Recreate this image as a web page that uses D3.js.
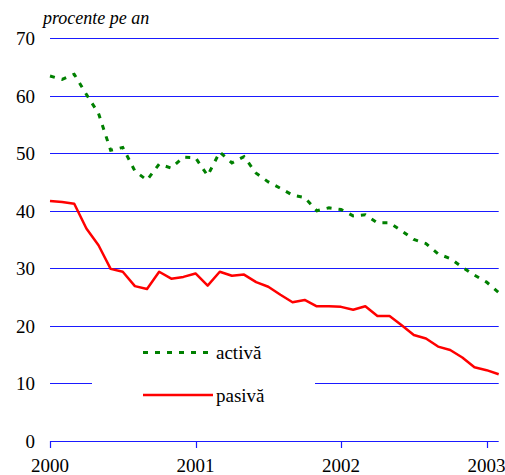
<!DOCTYPE html>
<html>
<head>
<meta charset="utf-8">
<script src="https://cdn.jsdelivr.net/npm/d3@7"></script>
</head>
<body style="margin:0; background:#fff">
<svg id="chart" width="505" height="475"></svg>
<script>
// monthly data, Jan 2000 .. Feb 2003
const activa = [63.4, 62.8, 63.7, 60.2, 56.9, 50.5, 51.0, 46.9, 45.3, 48.1, 47.4, 49.3,
                49.2, 46.1, 50.2, 48.3, 49.4, 46.5, 45.0, 43.9, 42.7, 42.3, 40.0, 40.5,
                40.2, 39.1, 39.3, 37.9, 37.9, 36.5, 35.0, 34.3, 32.5, 31.7, 30.2, 28.8,
                27.6, 25.8];
const pasiva = [41.7, 41.5, 41.2, 36.9, 34.0, 29.9, 29.4, 26.9, 26.4, 29.4, 28.2, 28.5,
                29.1, 27.0, 29.4, 28.7, 28.9, 27.6, 26.8, 25.4, 24.1, 24.5, 23.4, 23.4,
                23.3, 22.8, 23.4, 21.7, 21.7, 20.1, 18.4, 17.8, 16.4, 15.8, 14.5, 12.8,
                12.3, 11.6];
const startYear = 2000;
const yearTicks = [2000, 2001, 2002, 2003];
const valueTicks = [0, 10, 20, 30, 40, 50, 60, 70];
const seriesNames = ["activă", "pasivă"];
const unitLabel = "procente pe an";

const serif = "'Liberation Serif'";
const svg = d3.select("#chart");

const x = d3.scaleLinear()
    .domain([startYear, startYear + (activa.length - 1) / 12])
    .range([50, 498.7]);
const y = d3.scaleLinear().domain([0, 70]).range([441, 38]);

const toYear = i => startYear + i / 12;

// grid lines
svg.append("g")
    .selectAll("line")
    .data(valueTicks)
    .enter()
    .append("line")
    .attr("x1", x.range()[0])
    .attr("x2", x.range()[1])
    .attr("y1", d => Math.round(y(d)) + 0.5)
    .attr("y2", d => Math.round(y(d)) + 0.5)
    .attr("stroke", "#1a1aff")
    .attr("stroke-width", 1.2);

// y labels
svg.append("g")
    .selectAll("text")
    .data(valueTicks)
    .enter()
    .append("text")
    .attr("x", 35)
    .attr("y", d => y(d) + 7)
    .attr("text-anchor", "end")
    .style("font-family", serif)
    .style("font-size", "19px")
    .text(d => d);

// x ticks + labels
const xAxis = svg.append("g");
xAxis.selectAll("line")
    .data(yearTicks)
    .enter()
    .append("line")
    .attr("x1", d => Math.round(x(d)) + 0.5)
    .attr("x2", d => Math.round(x(d)) + 0.5)
    .attr("y1", 441)
    .attr("y2", 448)
    .attr("stroke", "#1a1aff")
    .attr("stroke-width", 1.2);
xAxis.selectAll("text")
    .data(yearTicks)
    .enter()
    .append("text")
    .attr("x", d => x(d))
    .attr("y", 472)
    .attr("text-anchor", "middle")
    .style("font-family", serif)
    .style("font-size", "19px")
    .text(d => d);

// unit label
svg.append("text")
    .attr("x", 43)
    .attr("y", 24)
    .style("font-family", serif)
    .style("font-size", "18px")
    .style("font-style", "italic")
    .text(unitLabel);

const line = d3.line()
    .x((d, i) => x(toYear(i)))
    .y(d => y(d));

svg.append("path")
    .datum(pasiva)
    .attr("d", line)
    .attr("fill", "none")
    .attr("stroke", "#ff0000")
    .attr("stroke-width", 2.5)
    .attr("stroke-linejoin", "round");

svg.append("path")
    .datum(activa)
    .attr("d", line)
    .attr("fill", "none")
    .attr("stroke", "#008000")
    .attr("stroke-width", 3)
    .attr("stroke-dasharray", "5,7");

// legend (white box hides the 10 grid line)
const legend = svg.append("g");
legend.append("rect")
    .attr("x", 92).attr("y", 334)
    .attr("width", 223).attr("height", 76)
    .attr("fill", "#fff");
const legendStyles = [
    { color: "#008000", dash: "5,7", width: 3, y: 352.5 },
    { color: "#ff0000", dash: null, width: 2.5, y: 395 }
];
seriesNames.forEach((name, i) => {
    const s = legendStyles[i];
    legend.append("line")
        .attr("x1", 143).attr("x2", 213)
        .attr("y1", s.y).attr("y2", s.y)
        .attr("stroke", s.color)
        .attr("stroke-width", s.width)
        .attr("stroke-dasharray", s.dash);
    legend.append("text")
        .attr("x", 216)
        .attr("y", s.y + 6.5)
        .style("font-family", serif)
        .style("font-size", "19px")
        .text(name);
});
</script>
</body>
</html>
